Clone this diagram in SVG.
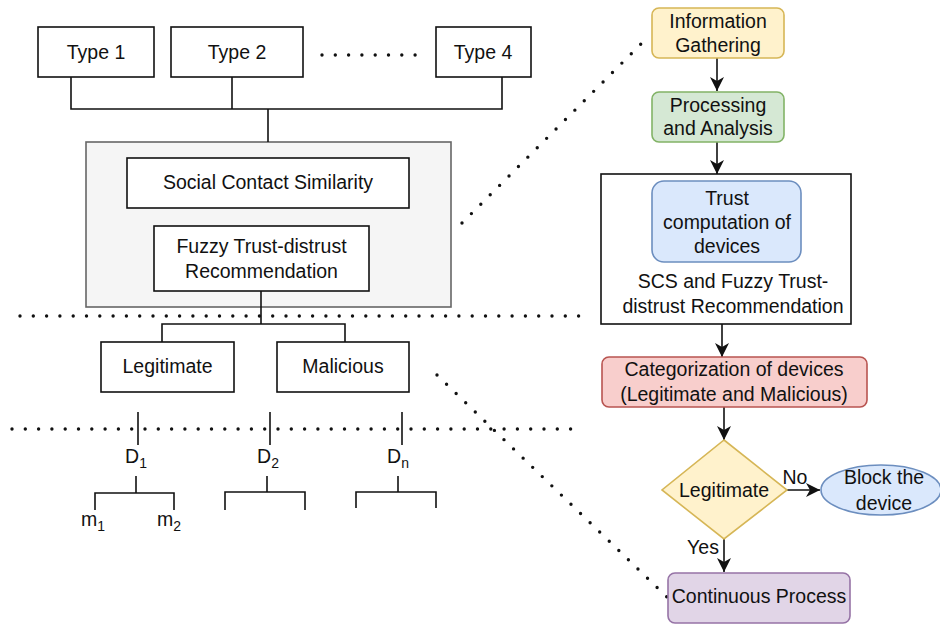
<svg xmlns="http://www.w3.org/2000/svg" width="940" height="626" viewBox="0 0 940 626">
<style>
text { font-family: "Liberation Sans", Arial, Helvetica, sans-serif; font-size: 19.5px; fill: #111; text-anchor: middle; }
.box { fill: #fff; stroke: #111; stroke-width: 1.6; }
.ln { fill: none; stroke: #111; stroke-width: 1.6; }
.arr { fill: none; stroke: #111; stroke-width: 1.6; marker-end: url(#ah); }
.dot { fill: none; stroke: #111; stroke-width: 3.4; stroke-linecap: round; stroke-dasharray: 0 13.3; }
.sub { font-size: 14px; }
</style>
<defs>
<marker id="ah" viewBox="-15 -8 15 16" refX="0" refY="0" markerWidth="15" markerHeight="16" markerUnits="userSpaceOnUse" orient="auto">
<path d="M0,0 L-14,-7 L-10,0 L-14,7 Z" fill="#111"/>
</marker>
</defs>

<g id="group-box">
<rect x="86" y="142" width="365" height="165" fill="#f5f5f5" stroke="#666" stroke-width="1.6"/>
</g>

<g id="connectors">
<polyline class="ln" points="71,77 71,109 502,109 502,77"/>
<line class="ln" x1="232" y1="77" x2="232" y2="109"/>
<line class="ln" x1="268" y1="109" x2="268" y2="142"/>
<line class="ln" x1="261" y1="291" x2="261" y2="324"/>
<polyline class="ln" points="162,342 162,324 345,324 345,342"/>
<line class="ln" x1="138" y1="412" x2="138" y2="445"/>
<line class="ln" x1="270" y1="412" x2="270" y2="445"/>
<line class="ln" x1="402" y1="412" x2="402" y2="445"/>
<line class="ln" x1="136" y1="476" x2="136" y2="493"/>
<polyline class="ln" points="95,510 95,493 174,493 174,510"/>
<line class="ln" x1="267" y1="476" x2="267" y2="492"/>
<polyline class="ln" points="225,510 225,492 305,492 305,510"/>
<line class="ln" x1="398" y1="476" x2="398" y2="492"/>
<polyline class="ln" points="356,508 356,492 436,492 436,508"/>
<line class="arr" x1="717" y1="58" x2="717" y2="91"/>
<line class="arr" x1="717" y1="142" x2="717" y2="174"/>
<line class="arr" x1="722" y1="324" x2="722" y2="357"/>
<line class="arr" x1="724" y1="407" x2="724" y2="440"/>
<line class="arr" x1="787" y1="490" x2="820" y2="490"/>
<line class="arr" x1="724" y1="539" x2="724" y2="572"/>
<line class="dot" x1="322" y1="55" x2="416" y2="55"/>
<line class="dot" x1="20" y1="316" x2="578.7" y2="316"/>
<line class="dot" x1="12" y1="429" x2="570.7" y2="429"/>
<line class="dot" x1="462" y1="223" x2="650" y2="35"/>
<line class="dot" x1="437" y1="375" x2="667" y2="597"/>
</g>

<g id="type1"><rect class="box" x="38" y="27" width="116" height="50"/><text x="96" y="59">Type 1</text></g>
<g id="type2"><rect class="box" x="171" y="27" width="132" height="50"/><text x="237" y="59">Type 2</text></g>
<g id="type4"><rect class="box" x="436" y="27" width="95" height="50"/><text x="483" y="59">Type 4</text></g>

<g id="scs"><rect class="box" x="127" y="158" width="282" height="50"/><text x="268" y="189">Social Contact Similarity</text></g>
<g id="fuzzy"><rect class="box" x="154" y="226" width="215" height="65"/><text x="261.5" y="253">Fuzzy Trust-distrust</text><text x="261.5" y="278">Recommendation</text></g>

<g id="legit"><rect class="box" x="101" y="342" width="133" height="50"/><text x="167.5" y="373">Legitimate</text></g>
<g id="malicious"><rect class="box" x="277" y="342" width="132" height="50"/><text x="343" y="373">Malicious</text></g>

<g id="d1"><text x="136" y="463">D<tspan class="sub" dy="5">1</tspan></text></g>
<g id="d2"><text x="268" y="463">D<tspan class="sub" dy="5">2</tspan></text></g>
<g id="dn"><text x="398" y="463">D<tspan class="sub" dy="5">n</tspan></text></g>
<g id="m1"><text x="93" y="526">m<tspan class="sub" dy="5">1</tspan></text></g>
<g id="m2"><text x="169" y="526">m<tspan class="sub" dy="5">2</tspan></text></g>

<g id="info"><rect x="652" y="8" width="132" height="50" rx="7" fill="#fff2cc" stroke="#d6b656" stroke-width="1.6"/><text x="718" y="28">Information</text><text x="718" y="52">Gathering</text></g>
<g id="processing"><rect x="652" y="92" width="132" height="50" rx="7" fill="#d5e8d4" stroke="#82b366" stroke-width="1.6"/><text x="718" y="112">Processing</text><text x="718" y="135">and Analysis</text></g>
<g id="trust-container"><rect class="box" x="601" y="174" width="250" height="150"/><text x="733" y="288">SCS and Fuzzy Trust-</text><text x="733" y="313">distrust Recommendation</text></g>
<g id="trust"><rect x="652" y="181" width="149" height="81" rx="12" fill="#dae8fc" stroke="#6c8ebf" stroke-width="1.6"/><text x="727" y="205">Trust</text><text x="727" y="229">computation of</text><text x="727" y="253">devices</text></g>
<g id="categorization"><rect x="602" y="357" width="265" height="50" rx="7" fill="#f8cecc" stroke="#b85450" stroke-width="1.6"/><text x="734" y="376">Categorization of devices</text><text x="734" y="401">(Legitimate and Malicious)</text></g>
<g id="decision"><polygon points="724,440 787,490 724,539 662,490" fill="#fff2cc" stroke="#d6b656" stroke-width="1.6"/><text x="724" y="497">Legitimate</text></g>
<g id="labels"><text x="795" y="484">No</text><text x="703" y="554">Yes</text></g>
<g id="block"><ellipse cx="881" cy="490" rx="60" ry="25" fill="#dae8fc" stroke="#6c8ebf" stroke-width="1.6"/><text x="884" y="484">Block the</text><text x="884" y="510">device</text></g>
<g id="continuous"><rect x="668" y="573" width="182" height="50" rx="7" fill="#e1d5e7" stroke="#9673a6" stroke-width="1.6"/><text x="759" y="603">Continuous Process</text></g>
</svg>
